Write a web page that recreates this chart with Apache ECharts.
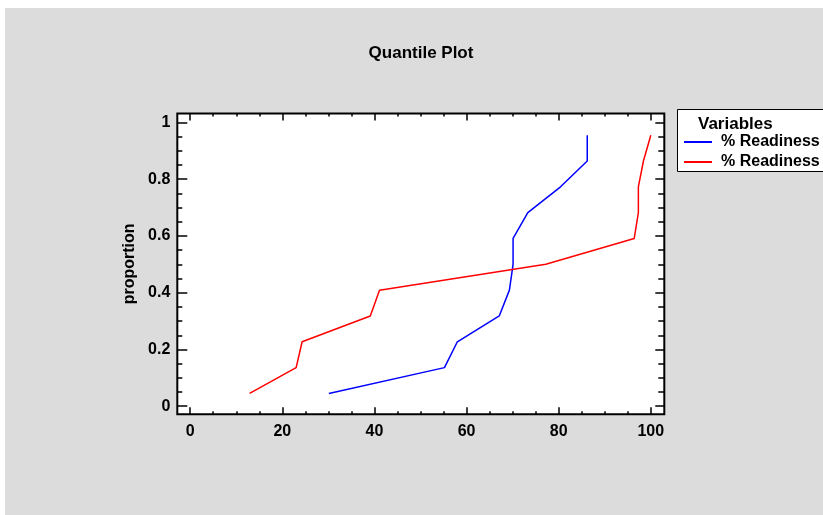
<!DOCTYPE html>
<html>
<head>
<meta charset="utf-8">
<script src="https://cdn.jsdelivr.net/npm/echarts@6/dist/echarts.min.js"></script>
<style>
  html, body { margin: 0; padding: 0; background: #ffffff; }
  #bg { position: absolute; left: 5px; top: 8px; width: 818px; height: 507px; background: #dcdcdc; }
  #chart { position: absolute; left: 0; top: 0; width: 823px; height: 515px; }
</style>
</head>
<body>
<div id="bg"></div>
<div id="chart"></div>
<script>
// ---- data ----
const titleText = 'Quantile Plot';
const yAxisName = 'proportion';
const legendTitle = 'Variables';
const seriesLabels = ['% Readiness', '% Readiness'];
const proportions = [0.045, 0.136, 0.227, 0.318, 0.409, 0.5, 0.591, 0.682, 0.773, 0.864, 0.955];
const blueValues = [30.1, 55.2, 58.0, 67.1, 69.3, 70.1, 70.1, 73.3, 80.4, 86.2, 86.2];
const redValues = [12.9, 23.0, 24.3, 39.1, 41.1, 77.2, 96.4, 97.3, 97.3, 98.4, 100.0];
const xMajorTicks = [0, 20, 40, 60, 80, 100];
const xMinorTicks = [5, 10, 15, 25, 30, 35, 45, 50, 55, 65, 70, 75, 85, 90, 95];
const yMajorTicks = [0, 0.2, 0.4, 0.6, 0.8, 1];
const yMinorTicks = [0.05, 0.1, 0.15, 0.25, 0.3, 0.35, 0.45, 0.5, 0.55, 0.65, 0.7, 0.75, 0.85, 0.9, 0.95];

const FONT = "'Liberation Sans', Arial, sans-serif";
const X_MIN = -2.8, X_MAX = 102.93;
const Y_MIN = -0.0285, Y_MAX = 1.0314;

function pairs(xs, ys) { return xs.map((x, i) => [x, ys[i]]); }

function xAxisDef(position, ticks, len, labels) {
  return {
    type: 'value', position: position, min: X_MIN, max: X_MAX,
    axisLine: { show: false, onZero: false },
    splitLine: { show: false },
    axisTick: { show: true, inside: true, length: len, customValues: ticks,
      lineStyle: { color: '#000', width: 1.5 } },
    axisLabel: labels ? { show: true, customValues: ticks, margin: 9, fontSize: 16,
      fontWeight: 'bold', color: '#000', fontFamily: FONT } : { show: false }
  };
}
function yAxisDef(position, ticks, len, labels, name) {
  const a = {
    type: 'value', position: position, min: Y_MIN, max: Y_MAX,
    axisLine: { show: false, onZero: false },
    splitLine: { show: false },
    axisTick: { show: true, inside: true, length: len, customValues: ticks,
      lineStyle: { color: '#000', width: 1.5 } },
    axisLabel: labels ? { show: true, customValues: ticks, margin: 7, fontSize: 16,
      fontWeight: 'bold', color: '#000', fontFamily: FONT } : { show: false }
  };
  if (name) {
    a.name = name; a.nameLocation = 'middle'; a.nameGap = 35;
    a.nameTextStyle = { fontSize: 16, fontWeight: 'bold', color: '#000', fontFamily: FONT };
  }
  return a;
}

const chart = echarts.init(document.getElementById('chart'), null, { renderer: 'canvas' });
chart.setOption({
  backgroundColor: 'transparent',
  animation: false,
  title: {
    text: titleText, left: 421, textAlign: 'center', top: 45, padding: 0,
    textStyle: { fontSize: 17, fontWeight: 'bold', color: '#000', fontFamily: FONT }
  },
  grid: {
    left: 177.3, right: 158.7, top: 113.5, bottom: 100.7,
    show: true, backgroundColor: '#ffffff', borderColor: '#000', borderWidth: 2
  },
  xAxis: [
    xAxisDef('bottom', xMajorTicks, 7, true),
    xAxisDef('bottom', xMinorTicks, 3, false),
    xAxisDef('top', xMajorTicks, 7, false),
    xAxisDef('top', xMinorTicks, 3, false)
  ],
  yAxis: [
    yAxisDef('left', yMajorTicks, 10, true, yAxisName),
    yAxisDef('left', yMinorTicks, 5, false),
    yAxisDef('right', yMajorTicks, 9, false),
    yAxisDef('right', yMinorTicks, 6, false)
  ],
  legend: {
    orient: 'vertical', left: 677, top: 109,
    padding: [25, 0, 1, 6], itemGap: 4, itemWidth: 28, itemHeight: 14,
    backgroundColor: 'transparent', borderWidth: 0, z: 10,
    itemStyle: { opacity: 0 },
    data: ['s1', 's2'],
    formatter: function (name) { return name === 's1' ? seriesLabels[0] : seriesLabels[1]; },
    textStyle: { fontSize: 16, fontWeight: 'bold', color: '#000', fontFamily: FONT, padding: [0, 0, 0, 4] }
  },
  graphic: [{
    type: 'rect', z: 1,
    shape: { x: 677.5, y: 109.5, width: 200, height: 62 },
    style: { fill: '#ffffff', stroke: '#000', lineWidth: 1 }
  }, {
    type: 'text', left: 698, top: 116, z: 100,
    style: { text: legendTitle, font: "bold 17px 'Liberation Sans', Arial, sans-serif", fill: '#000' }
  }],
  series: [
    { name: 's1', type: 'line', xAxisIndex: 0, yAxisIndex: 0, symbol: 'none',
      lineStyle: { color: '#0000ff', width: 1.5 }, itemStyle: { color: '#0000ff' },
      data: pairs(blueValues, proportions) },
    { name: 's2', type: 'line', xAxisIndex: 0, yAxisIndex: 0, symbol: 'none',
      lineStyle: { color: '#ff0000', width: 1.5 }, itemStyle: { color: '#ff0000' },
      data: pairs(redValues, proportions) }
  ]
});
</script>
</body>
</html>
